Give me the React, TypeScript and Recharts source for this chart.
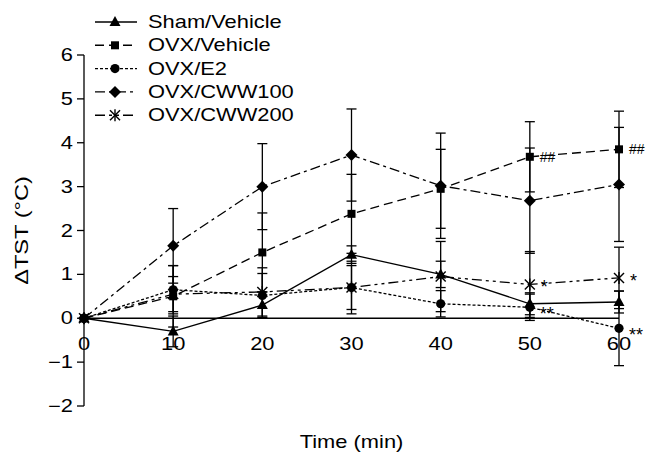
import React from "react";
import {
  LineChart,
  Line,
  XAxis,
  YAxis,
  ErrorBar,
  ReferenceLine,
  LabelList,
} from "recharts";

// --- Data ---

const times = [0, 10, 20, 30, 40, 50, 60];

const shamVehicle = [0, -0.3, 0.3, 1.45, 1.0, 0.33, 0.37];
const shamVehicleErr = [0, 0.35, 0.3, 0.2, 0.3, 0.25, 0.25];

const ovxVehicle = [0, 0.5, 1.5, 2.38, 2.95, 3.68, 3.85];
const ovxVehicleErr = [0, 0.7, 0.9, 0.9, 0.9, 0.8, 0.87];

const ovxE2 = [0, 0.65, 0.52, 0.7, 0.33, 0.25, -0.23];
const ovxE2Err = [0, 0.55, 0.5, 0.5, 0.3, 0.3, 0.85];

const ovxCww100 = [0, 1.65, 3.0, 3.72, 3.02, 2.68, 3.05];
const ovxCww100Err = [0, 0.85, 0.98, 1.05, 1.2, 1.2, 1.3];

const ovxCww200 = [0, 0.55, 0.6, 0.7, 0.95, 0.77, 0.92];
const ovxCww200Err = [0, 0.4, 0.55, 0.6, 0.8, 0.75, 0.7];

const vehicleNotes = ["", "", "", "", "", "##", "##"];
const e2Notes = ["", "", "", "", "", "**", "**"];
const cww200Notes = ["", "", "", "", "", "*", "*"];

const xTicks = [0, 10, 20, 30, 40, 50, 60];
const yTicks = [-2, -1, 0, 1, 2, 3, 4, 5, 6];

const data = times.map((t, i) => ({
  t,
  sham: shamVehicle[i],
  shamErr: shamVehicleErr[i],
  veh: ovxVehicle[i],
  vehErr: ovxVehicleErr[i],
  vehNote: vehicleNotes[i],
  e2: ovxE2[i],
  e2Err: ovxE2Err[i],
  e2Note: e2Notes[i],
  c100: ovxCww100[i],
  c100Err: ovxCww100Err[i],
  c200: ovxCww200[i],
  c200Err: ovxCww200Err[i],
  c200Note: cww200Notes[i],
}));

// --- Layout ---

const W = 646;
const H = 461;
const PLOT_TOP = 55;
const PLOT_BOTTOM = 406;
const ZERO_Y = PLOT_TOP + ((PLOT_BOTTOM - PLOT_TOP) * 6) / 8;
const FONT = '"Liberation Sans", Arial, sans-serif';
const FS = 17.5;
// the original's lettering is stretched sideways
const STRETCH = 1.25;

// stretched text
const SText = ({
  x,
  y,
  anchor = "start",
  rotate = false,
  sx = STRETCH,
  size = FS,
  children,
}: any) => (
  <text
    transform={`translate(${x},${y})${rotate ? " rotate(-90)" : ""} scale(${sx},1)`}
    textAnchor={anchor}
    fontSize={size}
    fontFamily={FONT}
    fill="#000"
  >
    {children}
  </text>
);

type MarkerKind = "triangle" | "square" | "circle" | "diamond" | "star";

const Marker = ({ kind, cx, cy }: { kind: MarkerKind; cx: number; cy: number }) => {
  if (kind === "triangle")
    return (
      <polygon
        points={`${cx},${cy - 6} ${cx - 5.5},${cy + 4} ${cx + 5.5},${cy + 4}`}
        fill="#000"
      />
    );
  if (kind === "square")
    return <rect x={cx - 4} y={cy - 4} width={8} height={8} fill="#000" />;
  if (kind === "circle") return <circle cx={cx} cy={cy} r={4.6} fill="#000" />;
  if (kind === "diamond")
    return (
      <polygon
        points={`${cx},${cy - 6} ${cx + 6},${cy} ${cx},${cy + 6} ${cx - 6},${cy}`}
        fill="#000"
      />
    );
  return (
    <g stroke="#000" strokeWidth={1.4}>
      <line x1={cx - 5} y1={cy - 5} x2={cx + 5} y2={cy + 5} />
      <line x1={cx - 5} y1={cy + 5} x2={cx + 5} y2={cy - 5} />
      <line x1={cx} y1={cy - 6} x2={cx} y2={cy + 6} />
    </g>
  );
};

const series = [
  { key: "sham", err: "shamErr", name: "Sham/Vehicle", dash: undefined, marker: "triangle" as MarkerKind },
  { key: "veh", err: "vehErr", name: "OVX/Vehicle", dash: "9 5", marker: "square" as MarkerKind },
  { key: "e2", err: "e2Err", name: "OVX/E2", dash: "3 2", marker: "circle" as MarkerKind },
  { key: "c100", err: "c100Err", name: "OVX/CWW100", dash: "10 4 3 4", marker: "diamond" as MarkerKind },
  { key: "c200", err: "c200Err", name: "OVX/CWW200", dash: "10 4 3 4 3 4", marker: "star" as MarkerKind },
];

const notes: Record<string, { dataKey: string; dx: number; dy: number; size: number }> = {
  veh: { dataKey: "vehNote", dx: 10, dy: 5, size: 14 },
  e2: { dataKey: "e2Note", dx: 10, dy: 13, size: 18 },
  c200: { dataKey: "c200Note", dx: 11, dy: 9, size: 18 },
};

const XTick = ({ x, payload }: any) => (
  <SText x={x} y={ZERO_Y + 32} anchor="middle">
    {payload.value}
  </SText>
);

const YTick = ({ x, y, payload }: any) => (
  <SText x={x} y={y + 6} anchor="end">
    {payload.value < 0 ? `\u2212${-payload.value}` : `${payload.value}`}
  </SText>
);

const LegendBox = () => (
  <svg
    width={330}
    height={130}
    style={{ position: "absolute", left: 0, top: 0 }}
  >
    {series.map((s, i) => {
      const y = 22 + i * 23.3;
      return (
        <g key={s.key}>
          <line
            x1={95}
            x2={137}
            y1={y}
            y2={y}
            stroke="#000"
            strokeWidth={1.4}
            strokeDasharray={s.dash}
          />
          <Marker kind={s.marker} cx={115} cy={y} />
          <SText x={148} y={y + 6}>
            {s.name}
          </SText>
        </g>
      );
    })}
  </svg>
);

const App = () => {
  return (
    <div
      style={{
        position: "absolute",
        left: 0,
        top: 0,
        width: W,
        height: H,
        background: "#fff",
      }}
    >
      <LineChart
        width={W}
        height={H}
        data={data}
        margin={{ top: PLOT_TOP, right: 27, bottom: 0, left: 24 }}
      >
        <XAxis
          dataKey="t"
          type="number"
          domain={[0, 60]}
          ticks={xTicks}
          axisLine={false}
          tickLine={false}
          tick={<XTick />}
          height={55}
          label={({ viewBox }: any) => (
            <SText x={viewBox.x + viewBox.width / 2} y={448} anchor="middle">
              Time (min)
            </SText>
          )}
        />
        <YAxis
          type="number"
          domain={[-2, 6]}
          ticks={yTicks}
          allowDataOverflow
          width={60}
          tickSize={7}
          tickMargin={4}
          axisLine={{ stroke: "#000", strokeWidth: 1.3 }}
          tickLine={{ stroke: "#000", strokeWidth: 1.3 }}
          tick={<YTick />}
          label={({ viewBox }: any) => (
            <SText
              x={28}
              y={viewBox.y + viewBox.height / 2}
              rotate
              sx={1.35}
              anchor="middle"
            >
              ΔTST (°C)
            </SText>
          )}
        />
        <ReferenceLine y={0} stroke="#000" strokeWidth={1.3} />
        {series.map((s) => (
          <Line
            key={s.key}
            dataKey={s.key}
            name={s.name}
            type="linear"
            stroke="#000"
            strokeWidth={1.3}
            strokeDasharray={s.dash}
            isAnimationActive={false}
            dot={(p: any) => (
              <Marker key={`${s.key}-${p.index}`} kind={s.marker} cx={p.cx} cy={p.cy} />
            )}
            activeDot={false}
          >
            <ErrorBar
              dataKey={s.err}
              width={5}
              stroke="#000"
              strokeWidth={1.3}
              isAnimationActive={false}
            />
            {notes[s.key] && (
              <LabelList
                dataKey={notes[s.key].dataKey}
                content={(p: any) =>
                  p.value ? (
                    <text
                      x={p.x + notes[s.key].dx}
                      y={p.y + notes[s.key].dy}
                      fontSize={notes[s.key].size}
                      fontFamily={FONT}
                      fill="#000"
                    >
                      {p.value}
                    </text>
                  ) : null
                }
              />
            )}
          </Line>
        ))}
      </LineChart>
      <LegendBox />
    </div>
  );
};

export default App;
